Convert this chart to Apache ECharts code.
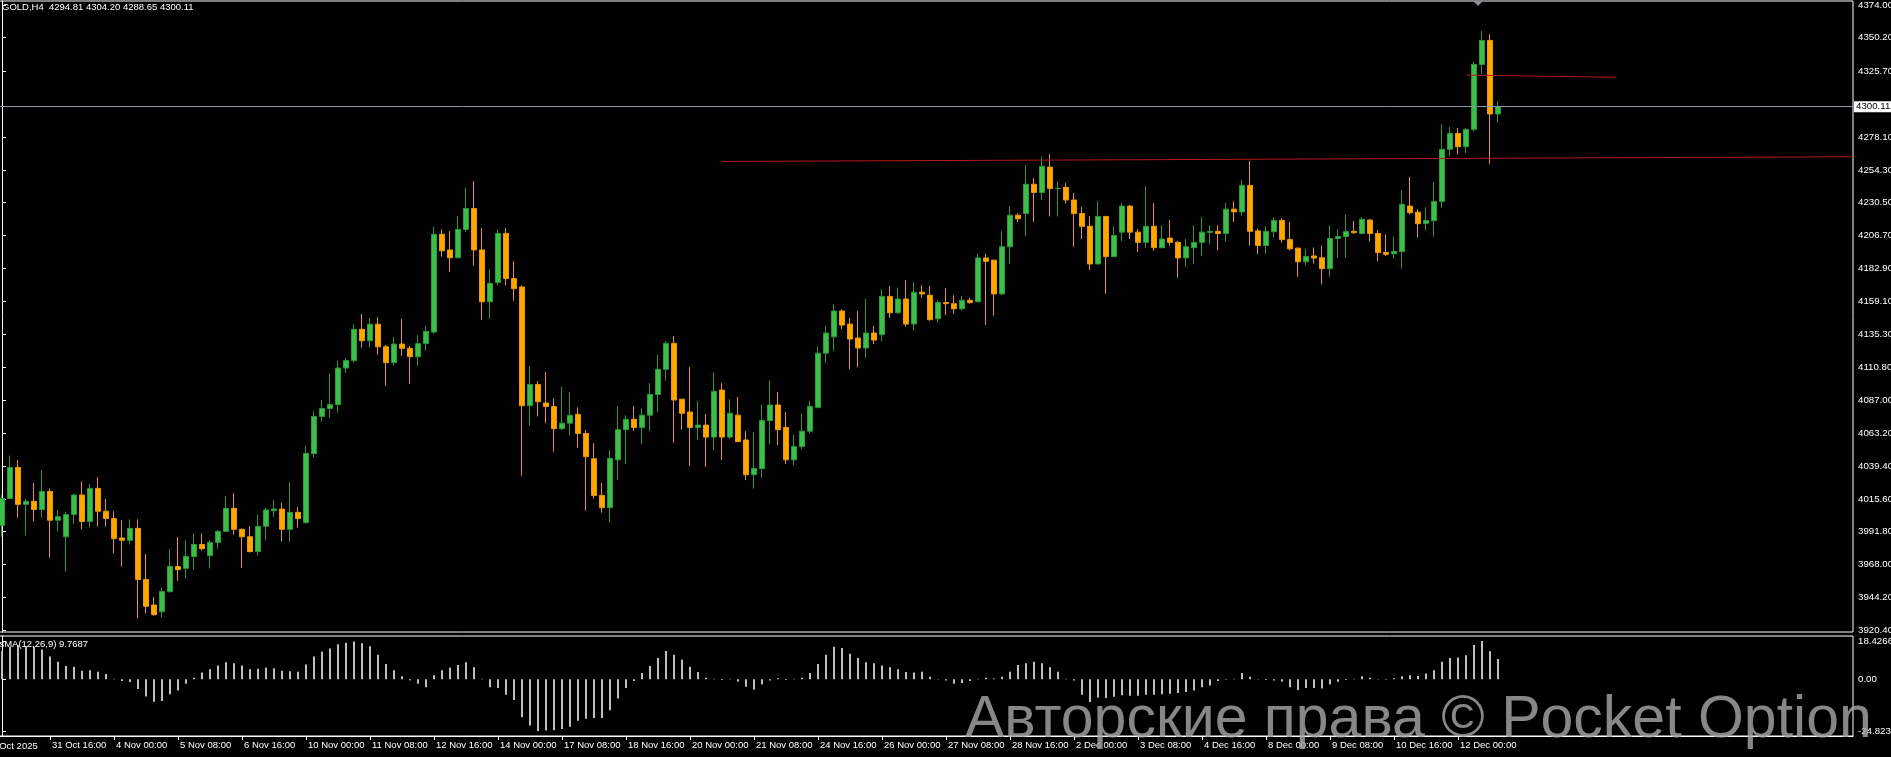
<!DOCTYPE html>
<html><head><meta charset="utf-8">
<script src="https://cdn.jsdelivr.net/npm/echarts@6/dist/echarts.min.js"></script>
<style>html,body{margin:0;padding:0;background:#000;overflow:hidden}#c{width:1891px;height:757px}</style>
</head><body><div id="c"></div>
<script>
// ---------- DATA ----------
const openP = [3996.4,4015.9,4038.4,4011.6,4013.8,4007.9,4021.0,4000.1,3988.1,4004.3,4018.4,3999.2,4023.2,4006.6,4001.3,3987.2,3985.6,3994.2,3957.1,3938.6,
3933.7,3948.3,3966.5,3965.2,3973.8,3982.5,3974.4,3984.0,3992.0,4008.7,3993.5,3988.1,3977.4,3995.7,4007.0,4008.2,3993.5,4005.8,3998.3,4048.4,
4075.4,4081.1,4084.0,4110.5,4115.9,4138.6,4130.3,4142.3,4125.9,4114.4,4127.9,4124.8,4118.7,4128.2,4136.6,4207.5,4196.2,4190.5,4211.1,4226.3,
4196.2,4158.6,4172.6,4208.2,4175.4,4169.3,4083.2,4098.6,4085.1,4082.6,4066.5,4070.5,4076.9,4063.0,4044.7,4018.1,4009.2,4043.9,4065.8,4073.3,
4067.4,4076.3,4091.3,4109.6,4128.4,4087.9,4078.6,4067.4,4069.1,4060.4,4094.5,4060.4,4076.3,4058.3,4033.1,4037.6,4072.4,4083.7,4067.4,4043.9,
4053.5,4064.7,4082.0,4121.3,4133.2,4151.9,4142.4,4132.3,4125.1,4135.9,4134.7,4162.5,4150.6,4160.6,4142.5,4165.5,4163.3,4146.3,4158.0,4157.2,
4153.5,4159.7,4158.6,4190.4,4188.8,4164.3,4198.5,4221.4,4222.6,4243.9,4237.9,4256.3,4240.7,4241.6,4232.4,4222.6,4213.3,4186.0,4220.5,4191.3,
4209.1,4228.0,4209.1,4201.7,4213.3,4197.8,4204.8,4201.7,4190.4,4197.8,4201.7,4208.9,4209.7,4208.1,4225.8,4223.8,4243.0,4210.0,4199.4,4209.4,
4217.6,4203.7,4197.5,4187.6,4191.8,4190.5,4182.6,4204.5,4205.9,4209.7,4208.1,4217.9,4208.1,4194.4,4193.4,4195.1,4228.0,4223.6,4215.4,4217.4,
4231.4,4269.2,4280.7,4271.1,4283.7,4330.8,4348.2,4294.81];
const highP = [4018.4,4046.9,4043.8,4015.5,4027.1,4036.5,4023.2,4007.5,4006.3,4019.1,4028.3,4026.3,4031.4,4015.5,4006.6,4000.1,4000.7,4000.7,3975.6,3944.4,
3951.4,3979.2,3987.9,3985.6,3990.6,3990.6,3985.6,3993.0,4017.6,4019.8,3994.2,3995.7,4003.9,4008.9,4014.8,4012.8,4027.8,4009.7,4053.9,4079.1,
4087.3,4106.6,4115.9,4117.5,4142.3,4149.7,4146.8,4147.5,4127.2,4133.0,4146.1,4126.5,4134.4,4141.0,4212.8,4211.1,4209.9,4220.8,4241.1,4246.2,
4212.0,4182.3,4211.1,4212.0,4188.1,4170.5,4112.0,4101.1,4107.6,4088.5,4096.7,4093.1,4082.0,4065.5,4055.9,4027.1,4050.9,4082.9,4076.3,4082.9,
4081.2,4099.5,4119.9,4130.2,4133.7,4088.1,4111.2,4086.6,4077.1,4107.4,4099.5,4087.9,4089.5,4064.7,4063.9,4084.1,4101.4,4093.1,4078.6,4061.9,
4077.7,4086.6,4126.2,4141.0,4156.9,4153.1,4146.9,4151.9,4160.6,4141.0,4167.8,4170.0,4168.8,4174.3,4172.6,4170.7,4170.0,4159.7,4168.5,4163.3,
4162.7,4161.4,4193.5,4193.5,4189.0,4209.9,4228.0,4222.9,4257.8,4248.3,4263.6,4265.7,4245.9,4244.7,4237.4,4227.3,4220.5,4231.6,4220.8,4213.3,
4230.2,4228.7,4211.3,4242.5,4230.2,4214.2,4217.9,4202.7,4204.1,4214.2,4220.0,4214.1,4214.1,4230.2,4231.5,4246.9,4260.7,4211.8,4213.3,4219.9,
4219.1,4216.5,4198.0,4197.0,4198.0,4199.4,4214.1,4211.1,4221.9,4217.2,4219.9,4218.4,4210.6,4207.5,4206.0,4239.4,4249.1,4225.6,4227.1,4245.2,
4287.3,4285.4,4284.6,4284.6,4332.5,4355.0,4352.8,4304.20];
const lowP = [3988.1,4015.5,4001.9,3989.1,3999.2,4001.9,3972.9,3992.0,3962.8,3997.3,3993.5,3994.7,3995.4,3995.4,3976.1,3966.5,3982.5,3928.9,3932.5,3930.8,
3929.6,3947.5,3956.2,3957.7,3964.2,3978.0,3965.2,3979.4,3991.8,3989.6,3965.6,3976.6,3974.4,3985.6,4002.6,3984.6,3984.6,3994.7,3997.8,4045.7,
4071.6,4074.5,4078.1,4107.1,4114.4,4125.3,4125.3,4120.2,4097.7,4112.2,4119.2,4099.1,4112.2,4123.1,4135.4,4191.3,4180.4,4190.3,4209.4,4184.7,
4145.6,4146.3,4170.5,4170.5,4159.4,4032.4,4068.7,4075.4,4070.5,4049.8,4065.5,4061.4,4052.7,4007.0,4015.7,4005.6,3998.3,4029.2,4040.9,4064.7,
4055.4,4064.7,4078.6,4101.4,4056.3,4065.8,4039.4,4058.3,4038.7,4050.9,4043.9,4059.0,4056.8,4029.2,4023.0,4030.7,4055.4,4054.6,4040.9,4040.1,
4051.7,4063.1,4081.2,4114.1,4122.8,4138.8,4109.6,4111.2,4117.8,4127.9,4130.2,4146.9,4149.9,4140.5,4137.6,4161.4,4144.8,4143.4,4148.9,4149.9,
4152.1,4157.2,4158.3,4141.9,4148.5,4163.3,4186.0,4216.5,4206.3,4216.5,4232.4,4220.5,4220.5,4230.0,4198.5,4204.1,4181.6,4185.8,4164.3,4191.0,
4202.7,4204.1,4194.6,4197.8,4195.6,4197.6,4199.2,4176.0,4183.8,4186.0,4192.0,4200.2,4195.9,4202.3,4216.5,4221.0,4199.4,4193.2,4193.2,4205.1,
4201.5,4195.9,4176.8,4185.2,4186.3,4171.2,4176.8,4190.5,4190.5,4208.0,4207.5,4202.4,4188.1,4191.9,4190.0,4182.6,4222.0,4205.1,4210.6,4205.8,
4226.8,4264.1,4265.5,4266.5,4282.0,4323.8,4258.7,4288.65];
const closeP = [4015.9,4038.4,4011.6,4013.8,4007.9,4021.0,4000.1,4002.6,4004.3,4018.4,3999.2,4023.2,4006.6,4001.3,3986.7,3985.6,3994.2,3957.1,3937.6,3931.6,
3948.3,3966.5,3964.2,3973.8,3982.5,3979.4,3984.0,3992.0,4008.7,3993.5,3988.1,3977.4,3995.7,4007.5,4008.2,3993.5,4005.8,4001.3,4048.6,4075.4,
4081.1,4084.0,4110.5,4115.9,4138.6,4130.3,4142.3,4125.9,4114.4,4127.9,4124.8,4118.7,4128.2,4137.1,4207.5,4195.6,4190.5,4211.1,4226.3,4196.2,
4158.6,4171.9,4208.2,4175.4,4168.1,4083.2,4098.6,4086.1,4082.6,4066.5,4070.5,4076.2,4063.0,4046.2,4018.1,4009.2,4045.0,4065.8,4073.3,4067.4,
4076.3,4091.3,4109.6,4128.4,4087.3,4077.7,4067.4,4069.1,4060.4,4093.6,4060.4,4077.7,4057.1,4033.1,4037.6,4072.4,4083.7,4065.8,4043.9,4053.5,
4064.7,4082.7,4121.3,4135.9,4151.9,4141.7,4131.5,4125.1,4135.9,4130.8,4162.5,4150.6,4160.6,4142.4,4165.5,4164.3,4145.6,4158.0,4157.2,4153.5,
4159.7,4158.0,4190.4,4187.9,4164.3,4198.5,4221.4,4218.8,4243.9,4237.9,4256.8,4240.7,4240.9,4232.4,4222.6,4213.3,4186.0,4220.5,4191.3,4206.7,
4228.0,4209.1,4201.7,4213.3,4197.8,4204.1,4201.7,4190.4,4198.5,4201.7,4209.1,4209.7,4208.1,4225.8,4223.8,4243.0,4209.7,4199.4,4209.7,4217.6,
4203.7,4197.0,4187.6,4191.5,4190.3,4182.6,4204.5,4205.9,4209.5,4208.7,4218.4,4208.1,4194.2,4193.0,4195.1,4229.3,4223.2,4215.2,4217.6,4231.4,
4269.2,4280.7,4271.1,4283.7,4330.8,4348.2,4294.8,4300.11];
const osmaValues = [13.5,15.6,16.4,15.9,15.6,14.3,11.0,8.5,6.4,6.1,4.1,4.4,3.6,2.6,0.3,-0.8,-1.3,-4.6,-8.2,-10.7,
-10.4,-7.1,-5.4,-2.1,0.8,3.3,4.9,6.6,8.2,7.7,6.7,4.9,5.1,5.6,5.3,4.1,3.9,3.6,7.1,11.0,
13.2,14.8,16.8,17.6,18.2,17.3,15.9,11.8,7.4,4.4,1.5,-0.4,-2.1,-3.8,2.0,4.4,5.6,6.9,8.2,5.8,
0.3,-3.8,-4.1,-7.4,-9.9,-18.2,-22.2,-24.8234,-24.6,-24.4,-23.8,-22.7,-19.9,-18.9,-18.6,-18.6,-14.8,-9.2,-4.1,-0.8,
3.1,6.4,10.2,13.6,11.8,9.4,6.1,3.5,0.8,0.3,-0.3,0.3,-1.0,-3.6,-4.9,-2.3,-0.5,0.5,-0.3,0.3,
0.8,3.1,7.4,11.8,15.6,15.1,12.3,10.2,8.2,7.7,6.6,5.8,4.9,3.5,3.3,3.6,1.2,0.2,-0.5,-2.1,
-1.8,-0.8,0.3,0.8,0.4,1.2,3.6,6.9,7.7,8.5,7.7,5.8,3.6,0.3,-0.5,-7.4,-10.9,-8.7,-8.9,-8.4,
-7.6,-7.9,-7.9,-7.4,-7.4,-7.1,-6.9,-6.6,-6.1,-5.4,-3.8,-2.9,-0.8,-0.2,0.3,3.1,1.2,0.2,-0.3,-0.5,
-1.0,-3.8,-5.1,-4.1,-4.1,-4.4,-2.3,-1.2,-0.3,0.3,1.5,0.8,0.2,-0.2,0.5,1.5,2.0,1.6,2.8,4.4,
8.5,10.2,10.5,11.6,16.5,18.4266,13.5,9.7687];
const priceTicks = [3920.4,3944.2,3968.0,3991.8,4015.6,4039.4,4063.2,4087.0,4110.8,4135.3,4159.1,4182.9,4206.7,4230.5,4254.3,4278.1,4325.7,4350.2,4374.0];
const osmaTicks = [18.4266, 0, -24.8234];
const timeTickIdx = [6,14,22,30,38,46,54,62,70,78,86,94,102,110,118,126,134,142,150,158,166,174,182];
const timeTickLabels = ['31 Oct 16:00','4 Nov 00:00','5 Nov 08:00','6 Nov 16:00','10 Nov 00:00','11 Nov 08:00','12 Nov 16:00','14 Nov 00:00','17 Nov 08:00','18 Nov 16:00','20 Nov 00:00','21 Nov 08:00','24 Nov 16:00','26 Nov 00:00','27 Nov 08:00','28 Nov 16:00','2 Dec 00:00','3 Dec 08:00','4 Dec 16:00','8 Dec 00:00','9 Dec 08:00','10 Dec 16:00','12 Dec 00:00'];
const firstDateLabel = '30 Oct 2025';
const lastPrice = 4300.11;
const headerText = 'GOLD,H4  4294.81 4304.20 4288.65 4300.11';
const osmaTitle = 'OsMA(12,26,9) 9.7687';
const watermark = 'Авторские права © Pocket Option';
const trendLine1 = [[90, 4260.4], [231.375, 4263.8]];
const trendLine2 = [[183.1, 4323.0], [201.8, 4321.5]];

// ---------- CHART ----------
const FONT = "'Liberation Sans', Arial, sans-serif";
const candleData = openP.map((o, i) => [i, o, closeP[i], lowP[i], highP[i]]);
const osmaData = osmaValues.map((v, i) => [i, v]);
const X_MIN = -0.375, X_MAX = 231.375;
const tickLabelMap = {};
timeTickIdx.forEach((v, k) => { tickLabelMap[v] = timeTickLabels[k]; });

const chart = echarts.init(document.getElementById('c'), null, {renderer: 'canvas'});
chart.setOption({
  backgroundColor: '#000',
  animation: false,
  textStyle: {fontFamily: FONT},
  grid: [
    {left: -1, top: 1, width: 1854, height: 631, show: true, borderColor: '#fff', borderWidth: 1, backgroundColor: 'transparent', outerBoundsMode: 'none', containLabel: false},
    {left: -1, top: 636, width: 1854, height: 100, show: true, borderColor: '#fff', borderWidth: 1, backgroundColor: 'transparent', outerBoundsMode: 'none', containLabel: false}
  ],
  xAxis: [
    {type: 'value', gridIndex: 0, min: X_MIN, max: X_MAX, axisLine: {show: false}, axisTick: {show: false}, axisLabel: {show: false}, splitLine: {show: false}},
    {type: 'value', gridIndex: 1, min: X_MIN, max: X_MAX, position: 'bottom',
      axisLine: {show: true, onZero: false, lineStyle: {color: '#fff', width: 1}},
      axisTick: {show: true, customValues: timeTickIdx, length: 4, inside: false, lineStyle: {color: '#fff', width: 1}},
      axisLabel: {show: true, customValues: timeTickIdx, formatter: v => tickLabelMap[Math.round(v)] || '', color: '#fff', fontSize: 9.5, fontFamily: FONT, align: 'left', margin: 4, padding: [0, 0, 0, 2]},
      splitLine: {show: false}}
  ],
  yAxis: [
    {type: 'value', gridIndex: 0, min: 3919.0, max: 4376.8, position: 'right',
      axisLine: {show: true, lineStyle: {color: '#fff', width: 1}},
      axisTick: {show: true, customValues: priceTicks, length: 4, inside: false, lineStyle: {color: '#fff'}},
      axisLabel: {show: true, customValues: priceTicks, formatter: v => v.toFixed(2), color: '#fff', fontSize: 9.7, fontFamily: FONT, margin: 5},
      splitLine: {show: false}},
    {type: 'value', gridIndex: 1, min: -27.2, max: 20.8, position: 'right',
      axisLine: {show: true, lineStyle: {color: '#fff', width: 1}},
      axisTick: {show: true, customValues: osmaTicks, length: 4, inside: false, lineStyle: {color: '#fff'}},
      axisLabel: {show: true, customValues: osmaTicks, formatter: v => (v === 0 ? '0.00' : v.toFixed(4)), color: '#fff', fontSize: 9.7, fontFamily: FONT, margin: 5},
      splitLine: {show: false}}
  ],
  series: [
    {type: 'candlestick', name: 'GOLD,H4', xAxisIndex: 0, yAxisIndex: 0, data: candleData,
      encode: {x: 0, y: [1, 2, 3, 4]},
      barWidth: 5,
      itemStyle: {color: '#3cbf4a', color0: '#ffa500', borderColor: '#2c9a39', borderColor0: '#eb9a06', borderWidth: 1},
      markLine: {silent: true, animation: false, symbol: ['none', 'none'],
        data: [
          {yAxis: lastPrice, lineStyle: {color: '#8c96a2', width: 1, type: 'solid'},
            label: {show: true, position: 'end', formatter: lastPrice.toFixed(2), backgroundColor: '#fff', color: '#000', fontSize: 9.7, fontFamily: FONT, padding: [1, 3, 0, 2], distance: 1}},
          [{coord: trendLine1[0], lineStyle: {color: '#b3191b', width: 1, type: 'solid'}, label: {show: false}}, {coord: trendLine1[1]}],
          [{coord: trendLine2[0], lineStyle: {color: '#b3191b', width: 1, type: 'solid'}, label: {show: false}}, {coord: trendLine2[1]}]
        ]}
    },
    {type: 'bar', name: 'OsMA', xAxisIndex: 1, yAxisIndex: 1, data: osmaData, barWidth: 2,
      itemStyle: {color: '#c0c0c0'}}
  ],
  graphic: [
    {type: 'text', x: 2, y: 2, style: {text: headerText, fill: '#fff', font: "9.5px 'Liberation Sans', Arial, sans-serif"}, z: 50},
    {type: 'text', x: -8, y: 639, style: {text: osmaTitle, fill: '#fff', font: "9.5px 'Liberation Sans', Arial, sans-serif"}, z: 50},
    {type: 'text', x: -14, y: 741, style: {text: firstDateLabel, fill: '#fff', font: "9.5px 'Liberation Sans', Arial, sans-serif"}, z: 50},
    {type: 'polygon', shape: {points: [[1473, 1], [1483, 1], [1478, 6]]}, style: {fill: '#8a9098'}, z: 50},
    {type: 'text', x: 965, y: 750, style: {text: watermark, fill: 'rgba(165,165,165,0.82)', font: "59px 'Liberation Sans', Arial, sans-serif", verticalAlign: 'bottom'}, z: 60}
  ]
});
</script>
</body></html>
